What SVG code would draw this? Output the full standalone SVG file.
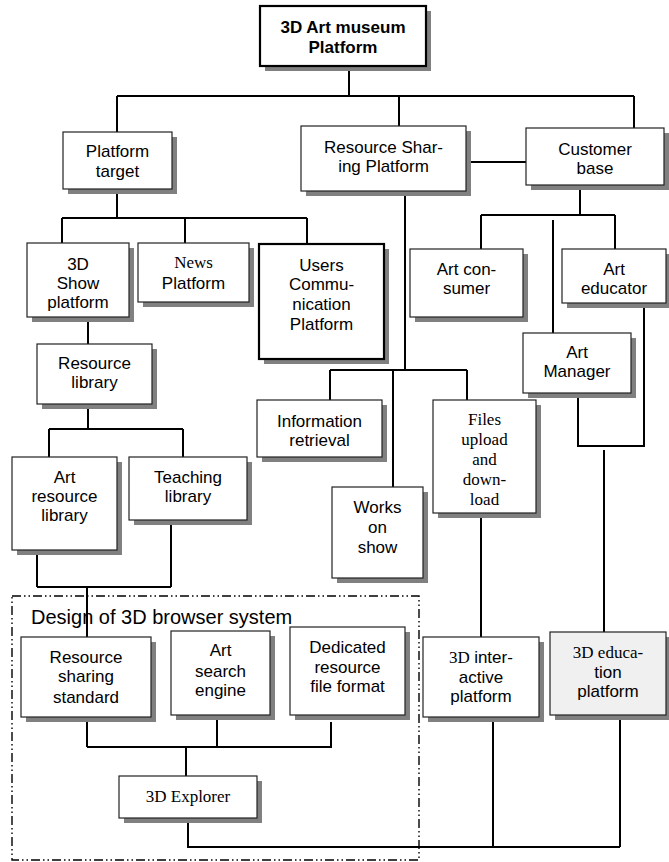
<svg xmlns="http://www.w3.org/2000/svg" width="669" height="862" viewBox="0 0 669 862">
<defs>
<style>
.sh{fill:#808080}
.bx{fill:#fff;stroke:#222;stroke-width:1.2}
.bk{fill:#fff;stroke:#000;stroke-width:2.2}
.gy{fill:#f0f0f0;stroke:#222;stroke-width:1.2}
.t{font-family:"Liberation Sans",Arial,sans-serif;font-size:17px;fill:#000;text-anchor:middle}
.tb{font-family:"Liberation Sans",Arial,sans-serif;font-size:17px;font-weight:bold;fill:#000;text-anchor:middle}
.tr{font-family:"Liberation Serif","Times New Roman",serif;font-size:17px;fill:#000;text-anchor:middle}
.sr{font-family:"Liberation Serif","Times New Roman",serif}
.ss{font-family:"Liberation Sans",Arial,sans-serif}
.ln{fill:none;stroke:#000;stroke-width:2}
.dd{fill:none;stroke:#000;stroke-width:1.4;stroke-dasharray:9,3,1.5,3,1.5,3}
.lbl{font-family:"Liberation Sans",Arial,sans-serif;font-size:20px;fill:#000}
</style>
</defs>
<rect width="669" height="862" fill="#fff"/>

<g id="design-group">
<rect class="dd" x="12" y="596" width="407" height="264"/>
</g>

<g id="connectors">
<path class="ln" d="M349,66 V96 M117,96 H634 M117,96 V132 M399,96 V126 M634,96 V128"/>
<path class="ln" d="M466,162 H526"/>
<path class="ln" d="M117,189 V218 M62,218 H307 M62,218 V243 M185,218 V243 M307,218 V244"/>
<path class="ln" d="M88,317 V344"/>
<path class="ln" d="M88,404 V429 M49,429 H183 M49,429 V457 M183,429 V457"/>
<path class="ln" d="M37,550 V587 M171,520 V587 M37,587 H171 M87,587 V637"/>
<path class="ln" d="M87,717 V747 M217,711 V748 M331,722 V748 M87,747 H331 M186,747 V776"/>
<path class="ln" d="M188,818 V847 H620 M493,717 V847 M620,715 V847"/>
<path class="ln" d="M405,191 V370 M330,370 H467 M330,370 V400 M467,370 V400 M393,370 V487"/>
<path class="ln" d="M580,185 V215 M481,215 H615 M481,215 V249 M615,215 V249 M553,220 V333"/>
<path class="ln" d="M578,393 V446 H644 V303 M604,450 V632"/>
<path class="ln" d="M481,513 V637"/>
</g>

<g id="root">
<rect class="sh" x="265" y="11" width="166" height="60"/>
<rect class="bk" x="260" y="6" width="166" height="60"/>
<text class="tb" x="343" y="33">3D Art museum</text>
<text class="tb" x="343" y="53">Platform</text>
</g>

<g id="platform-target">
<rect class="sh" x="68" y="137" width="109" height="57"/>
<rect class="bx" x="63" y="132" width="109" height="57"/>
<text class="t" x="117.5" y="157">Platform</text>
<text class="t" x="117.5" y="177">target</text>
</g>

<g id="resource-sharing-platform">
<rect class="sh" x="306" y="131" width="165" height="65"/>
<rect class="bx" x="301" y="126" width="165" height="65"/>
<text class="t" x="383.5" y="153">Resource Shar-</text>
<text class="t" x="383.5" y="172">ing Platform</text>
</g>

<g id="customer-base">
<rect class="sh" x="531" y="133" width="138" height="57"/>
<rect class="bx" x="526" y="128" width="138" height="57"/>
<text class="t" x="595" y="155">Customer</text>
<text class="t" x="595" y="174">base</text>
</g>

<g id="show-platform">
<rect class="sh" x="32" y="248" width="102" height="74"/>
<rect class="bx" x="27" y="243" width="102" height="74"/>
<text class="t" x="78" y="270">3D</text>
<text class="t" x="78" y="289">Show</text>
<text class="t" x="78" y="308">platform</text>
</g>

<g id="news-platform">
<rect class="sh" x="143" y="248" width="111" height="59"/>
<rect class="bx" x="138" y="243" width="111" height="59"/>
<text class="tr" x="193.5" y="268">News</text>
<text class="t" x="193.5" y="289">Platform</text>
</g>

<g id="users-communication">
<rect class="sh" x="264" y="249" width="125" height="115"/>
<rect class="bk" x="259" y="244" width="125" height="115"/>
<text class="t" x="321.5" y="271">Users</text>
<text class="t" x="321.5" y="290">Commu-</text>
<text class="t" x="321.5" y="310">nication</text>
<text class="t" x="321.5" y="330">Platform</text>
</g>

<g id="resource-library">
<rect class="sh" x="42" y="349" width="115" height="60"/>
<rect class="bx" x="37" y="344" width="115" height="60"/>
<text class="t" x="94.5" y="369">Resource</text>
<text class="t" x="94.5" y="388">library</text>
</g>

<g id="art-resource-library">
<rect class="sh" x="17" y="462" width="105" height="93"/>
<rect class="bx" x="12" y="457" width="105" height="93"/>
<text class="t" x="64.5" y="483">Art</text>
<text class="t" x="64.5" y="502">resource</text>
<text class="t" x="64.5" y="521">library</text>
</g>

<g id="teaching-library">
<rect class="sh" x="134" y="462" width="118" height="63"/>
<rect class="bx" x="129" y="457" width="118" height="63"/>
<text class="t" x="188" y="483">Teaching</text>
<text class="t" x="188" y="502">library</text>
</g>

<g id="information-retrieval">
<rect class="sh" x="262" y="405" width="125" height="57"/>
<rect class="bx" x="257" y="400" width="125" height="57"/>
<text class="t" x="319.5" y="427">Information</text>
<text class="t" x="319.5" y="446">retrieval</text>
</g>

<g id="works-on-show">
<rect class="sh" x="337" y="492" width="91" height="91"/>
<rect class="bx" x="332" y="487" width="91" height="91"/>
<text class="t" x="377.5" y="513">Works</text>
<text class="t" x="377.5" y="533">on</text>
<text class="t" x="377.5" y="553">show</text>
</g>

<g id="files-upload-download">
<rect class="sh" x="438" y="405" width="103" height="113"/>
<rect class="bx" x="433" y="400" width="103" height="113"/>
<text class="tr" x="484.5" y="425">Files</text>
<text class="tr" x="484.5" y="445">upload</text>
<text class="tr" x="484.5" y="465">and</text>
<text class="tr" x="484.5" y="485">down-</text>
<text class="tr" x="484.5" y="505">load</text>
</g>

<g id="art-consumer">
<rect class="sh" x="415" y="254" width="113" height="68"/>
<rect class="bx" x="410" y="249" width="113" height="68"/>
<text class="t" x="466.5" y="275">Art con-</text>
<text class="t" x="466.5" y="294">sumer</text>
</g>

<g id="art-educator">
<rect class="sh" x="567" y="254" width="104" height="54"/>
<rect class="bx" x="562" y="249" width="104" height="54"/>
<text class="t" x="614" y="275">Art</text>
<text class="t" x="614" y="294">educator</text>
</g>

<g id="art-manager">
<rect class="sh" x="528" y="338" width="108" height="60"/>
<rect class="bx" x="523" y="333" width="108" height="60"/>
<text class="t" x="577" y="358">Art</text>
<text class="t" x="577" y="377">Manager</text>
</g>

<g id="design-label">
<text class="lbl" x="31" y="624">Design of 3D browser system</text>
</g>

<g id="resource-sharing-standard">
<rect class="sh" x="26" y="642" width="130" height="80"/>
<rect class="bx" x="21" y="637" width="130" height="80"/>
<text class="t" x="86" y="663">Resource</text>
<text class="t" x="86" y="682">sharing</text>
<text class="t" x="86" y="703">standard</text>
</g>

<g id="art-search-engine">
<rect class="sh" x="176" y="636" width="99" height="84"/>
<rect class="bx" x="171" y="631" width="99" height="84"/>
<text class="t" x="220.5" y="656">Art</text>
<text class="t" x="220.5" y="677">search</text>
<text class="t" x="220.5" y="696">engine</text>
</g>

<g id="dedicated-format">
<rect class="sh" x="295" y="632" width="115" height="88"/>
<rect class="bx" x="290" y="627" width="115" height="88"/>
<text class="t" x="347.5" y="653">Dedicated</text>
<text class="t" x="347.5" y="673">resource</text>
<text class="t" x="347.5" y="692">file format</text>
</g>

<g id="explorer">
<rect class="sh" x="124" y="781" width="138" height="42"/>
<rect class="bx" x="119" y="776" width="138" height="42"/>
<text class="tr" x="188" y="802">3D Explorer</text>
</g>

<g id="interactive-platform">
<rect class="sh" x="428" y="642" width="116" height="80"/>
<rect class="bx" x="423" y="637" width="116" height="80"/>
<text class="t" x="481" y="663"><tspan class="sr">3D </tspan><tspan class="ss">inter-</tspan></text>
<text class="t" x="481" y="683">active</text>
<text class="t" x="481" y="702">platform</text>
</g>

<g id="education-platform">
<rect class="sh" x="555" y="637" width="116" height="83"/>
<rect class="gy" x="550" y="632" width="116" height="83"/>
<text class="tr" x="608" y="658">3D educa-</text>
<text class="t" x="608" y="678">tion</text>
<text class="t" x="608" y="697">platform</text>
</g>
</svg>
